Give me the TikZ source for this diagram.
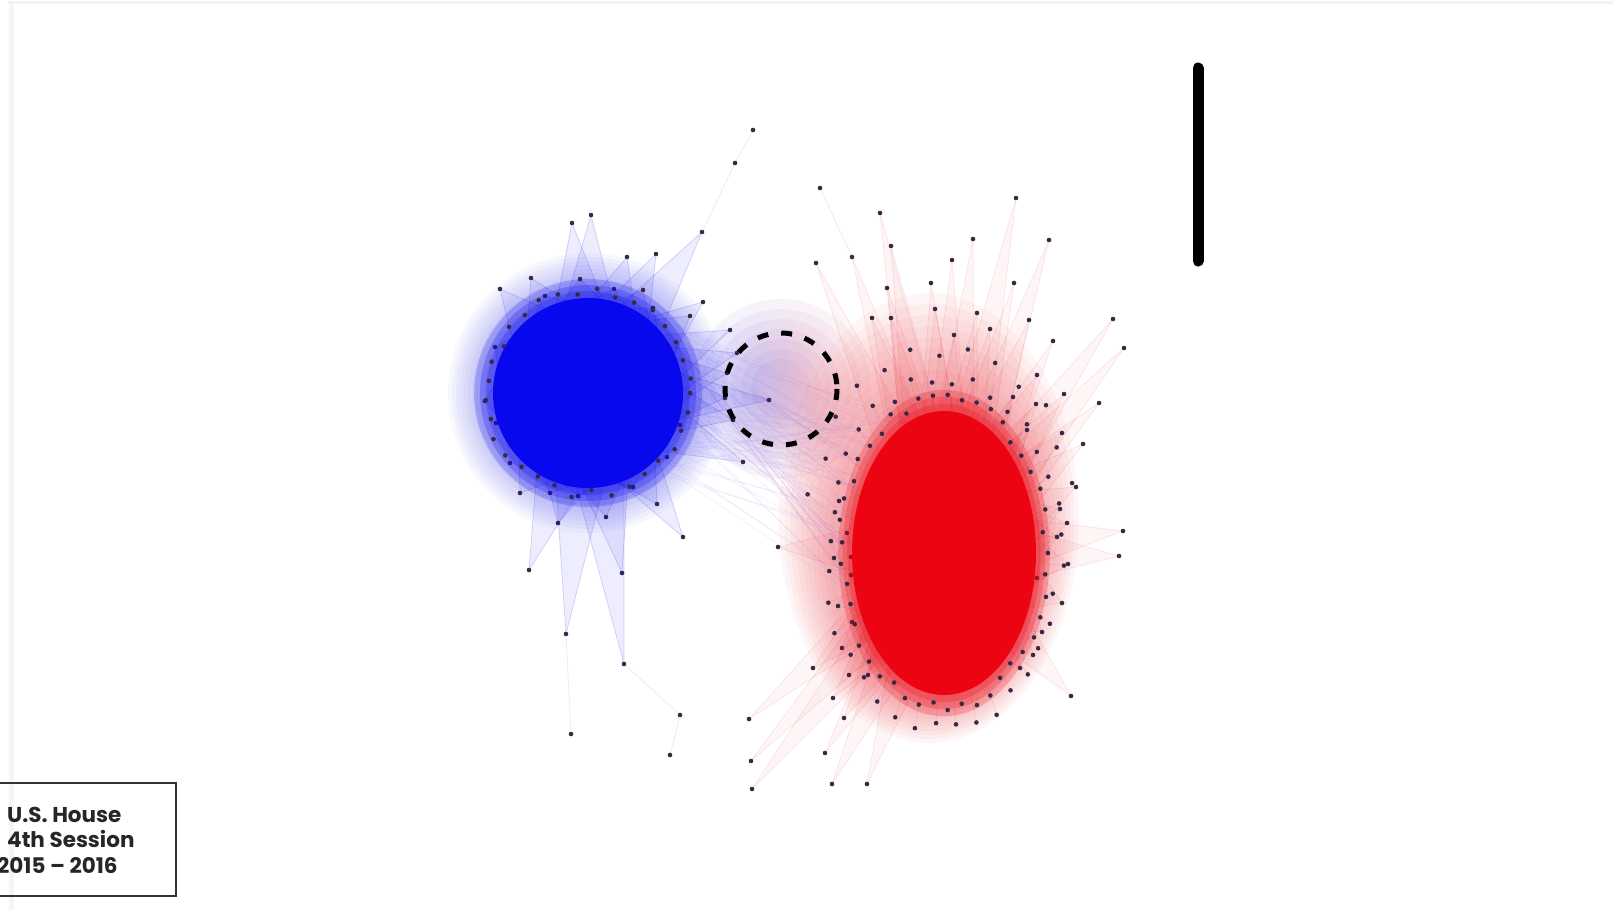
\documentclass[tikz,border=0pt]{standalone}
\usepackage{fontspec}
\setsansfont{Poppins}
\usetikzlibrary{calc}
\definecolor{demblue}{RGB}{8,8,238}
\definecolor{repred}{RGB}{236,4,18}
\definecolor{nodeink}{RGB}{55,40,70}
\definecolor{bridgeviolet}{RGB}{150,110,230}
\begin{document}
\begin{tikzpicture}[x=1pt,y=-1pt,
  member/.style={fill=nodeink},
  bluelink/.style={demblue,opacity=0.16,line width=0.8pt},
  redlink/.style={repred,opacity=0.1,line width=0.7pt},
  bluewedge/.style={fill=demblue,opacity=0.07},
  redwedge/.style={fill=repred,opacity=0.035},
  bridgelink/.style={bridgeviolet,opacity=0.12,line width=0.6pt},
  greylink/.style={black!40,opacity=0.25,line width=0.5pt},
  caption/.style={font=\sffamily\bfseries\fontsize{21.5}{24}\selectfont,text=black!85,inner sep=0pt,anchor=base west}]
\useasboundingbox (0,0) rectangle (1613,910);
\fill[white] (0,0) rectangle (1613,910);
\draw[black!5,line width=3pt] (8,2) -- (1613,2);
\draw[black!4,line width=5pt] (11,4) -- (11,910);
\coordinate (bcore) at (588,393);
\coordinate (rcore) at (944,553);
\coordinate (swing) at (781,389);
\pgfmathsetseed{11}
% soft halos
\foreach \r in {140,136,...,100}
  \fill[demblue,opacity=0.03] (bcore) circle (\r);
\foreach \s in {1.5,1.45,...,1.0}
  \fill[repred,opacity=0.035] ($(rcore)+(-10*\s,-70*\s+70)$) ellipse ({100*\s} and {150*\s});
\foreach \r in {90,80,...,30}
  \shade[left color=demblue!70,right color=repred!60,opacity=0.07] (swing) circle (\r);
% links between the two blocs
\foreach \i in {1,...,70} {
  \pgfmathsetmacro\ab{-55+110*rnd}
  \pgfmathsetmacro\ar{165+85*rnd}
  \draw[bridgelink] ($(bcore)+(\ab:100)$) -- ($(rcore)+({100*cos(\ar)},{150*sin(\ar)})$);
}
% spikes of the blue bloc
\foreach \x/\y in {591/215,572/223,702/232,627/257,656/254,531/278,580/279,500/289,545/296,643/290,
  614/289,703/302,690/316,730/330,495/347,653/308,737/353,727/373,725/398,733/420,485/401,496/423,
  680/425,510/463,667/457,520/493,550/493,578/496,633/487,657/504,558/523,606/517,683/537,529/570,
  622/573,566/634,624/664,743/462,769/400} {
  \fill[bluewedge] (\x,\y) -- ($(bcore)!90pt!16:(\x,\y)$) -- ($(bcore)!90pt!-16:(\x,\y)$) -- cycle;
  \draw[bluelink] (\x,\y) -- ($(bcore)!90pt!16:(\x,\y)$);
  \draw[bluelink] (\x,\y) -- ($(bcore)!90pt!-16:(\x,\y)$);
  \fill[member] (\x,\y) circle (2.3);
}
% spikes of the red bloc
\foreach \x/\y in {1016/198,880/213,973/239,1049/240,891/246,852/257,816/263,952/260,1014/283,887/288,
  931/283,935/309,977/313,872/318,891/318,1029/320,1113/319,990/329,954/335,1053/341,1124/348,1037/375,
  1013/397,1064/394,1099/403,1036/404,1027/430,1062/433,1083/444,1076/487,1060/509,1067/523,1123/531,
  1057/537,1119/556,1068/564,1037/578,1062/603,1042/632,1033/655,1020/668,1071/696,839/501,847/533,
  834/558,851/557,851/575,838/606,852/622,842/648,849/675,868/675,833/698,844/718,813/668,825/753,
  832/784,867/784,778/547,749/719,751/761,752/789} {
  \fill[redwedge] (\x,\y) -- ($(rcore)!96pt!13:(\x,\y)$) -- ($(rcore)!96pt!-13:(\x,\y)$) -- cycle;
  \draw[redlink] (\x,\y) -- ($(rcore)!96pt!13:(\x,\y)$);
  \draw[redlink] (\x,\y) -- ($(rcore)!96pt!-13:(\x,\y)$);
  \fill[member] (\x,\y) circle (2.3);
}
% loose members
\foreach \x/\y/\u/\v in {753/130/735/163,735/163/702/232,820/188/852/257,571/734/566/634,
  680/715/624/664,670/755/680/715} {
  \draw[greylink] (\x,\y) -- (\u,\v);
  \fill[member] (\x,\y) circle (2.3);
}
% dense cores
\foreach \r in {114,108,102}
  \fill[demblue,opacity=0.22] (bcore) circle (\r);
\fill[demblue] (bcore) circle (95);
\foreach \s in {1.15,1.1,1.05}
  \fill[repred,opacity=0.22] (rcore) ellipse ({92*\s} and {142*\s});
\fill[repred] (rcore) ellipse (92 and 142);
% rings of members
\foreach \a in {0,11,...,355} {
  \pgfmathsetmacro\jr{101+5*rand}
  \fill[member] ($(bcore)+(\a:\jr)$) circle (2.3);
}
\foreach \a in {0,8,...,352} {
  \pgfmathsetmacro\js{1.03+0.04*rand}
  \fill[member] ($(rcore)+({100*\js*cos(\a)},{150*\js*sin(\a)})$) circle (2.3);
}
\foreach \a in {4,14,...,360} {
  \pgfmathsetmacro\js{1.17+0.05*rand}
  \draw[redlink] ($(rcore)+({100*\js*cos(\a)},{150*\js*sin(\a)})$) -- (rcore);
  \fill[member] ($(rcore)+({100*\js*cos(\a)},{150*\js*sin(\a)})$) circle (2.3);
}
\foreach \a in {196,208,...,344} {
  \pgfmathsetmacro\js{1.36+0.06*rand}
  \fill[member] ($(rcore)+({100*\js*cos(\a)},{150*\js*sin(\a)})$) circle (2.3);
}
% swing district
\draw[line width=5pt,dash pattern=on 11pt off 13pt] (swing) circle (56);
% scale bar
\draw[line width=11pt,line cap=round] (1198,68) -- (1198,261);
% caption
\draw[black!80,line width=1.6pt] (-10,783) rectangle (176,896);
\node[caption] (house) at (7,822) {U.S. House};
\node[caption] (session) at (7,847) {4th Session};
\node[caption] (years) at (-3,873) {2015 – 2016};
\end{tikzpicture}
\end{document}
